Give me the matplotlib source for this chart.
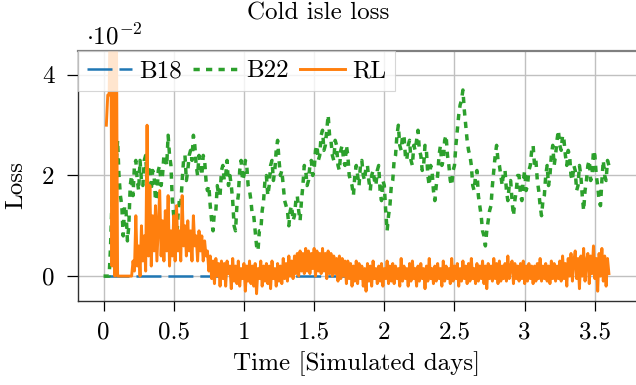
import matplotlib
matplotlib.use("Agg")
import matplotlib.pyplot as plt
import numpy as np

# ---------------------------------------------------------------------------
# Data (loss values in units of 1e-2)
# ---------------------------------------------------------------------------

b18_time = [0.0, 1.82]
b18_loss = [0.0, 0.0]

b22_time = np.round(np.arange(0, 3.605, 0.01), 2)
b22_loss = [
    0.0, 0.0, 0.0, 0.0, 0.0, 0.6, 1.5, 2.3, 2.6, 2.2, 2.7, 2.0, 1.6, 1.4, 0.8, 1.4, 1.3, 0.7, 1.0, 1.8,
    2.0, 1.6, 2.2, 2.3, 1.9, 1.7, 2.3, 1.9, 1.8, 2.3, 2.4, 1.9, 2.1, 2.2, 1.7, 2.1, 2.0, 1.5, 1.6, 2.1,
    2.2, 1.8, 2.0, 2.4, 2.4, 2.2, 2.8, 2.4, 2.2, 1.5, 1.2, 1.1, 0.6, 1.2, 1.5, 1.4, 1.9, 2.3, 2.4, 1.9,
    2.1, 2.4, 2.5, 2.3, 2.8, 2.6, 2.2, 2.0, 2.4, 2.2, 2.0, 2.4, 2.3, 1.9, 1.7, 1.8, 1.4, 1.1, 0.9, 1.3,
    1.3, 1.8, 1.6, 1.6, 2.1, 2.2, 1.9, 2.0, 2.3, 1.8, 2.0, 1.8, 1.5, 1.0, 0.9, 1.4, 1.6, 2.1, 2.3, 1.9,
    2.0, 2.3, 2.2, 1.8, 1.7, 1.5, 1.2, 1.2, 0.9, 0.6, 0.5, 0.9, 0.9, 1.3, 1.5, 1.9, 2.0, 1.6, 1.8, 2.2,
    2.3, 1.9, 2.1, 2.5, 2.7, 2.3, 2.0, 2.1, 1.8, 1.5, 1.4, 1.3, 1.0, 1.3, 1.4, 1.1, 1.2, 1.5, 1.6, 1.3,
    1.1, 1.5, 1.8, 2.2, 2.1, 1.8, 1.9, 2.2, 2.3, 2.0, 2.1, 2.5, 2.6, 2.3, 2.4, 2.8, 2.9, 2.5, 2.6, 2.9,
    3.2, 2.8, 2.7, 2.4, 2.3, 2.7, 2.6, 2.2, 2.1, 2.5, 2.6, 2.3, 2.2, 2.6, 2.4, 2.0, 1.9, 1.8, 1.6, 2.0,
    2.2, 2.0, 1.8, 2.2, 2.3, 2.0, 1.9, 2.2, 2.2, 1.9, 1.7, 2.0, 2.1, 1.9, 1.8, 2.1, 2.2, 1.7, 1.5, 1.9,
    1.8, 1.3, 0.9, 1.2, 1.4, 1.8, 1.9, 2.3, 2.4, 2.8, 3.0, 2.6, 2.5, 2.8, 2.8, 2.4, 2.3, 2.6, 2.7, 2.3,
    2.2, 2.6, 2.5, 2.7, 2.9, 2.5, 2.4, 2.1, 2.2, 2.6, 2.5, 2.0, 1.8, 2.2, 2.1, 1.7, 1.5, 1.8, 2.0, 2.4,
    2.6, 2.2, 2.3, 2.7, 2.8, 2.4, 2.2, 1.9, 1.8, 2.1, 2.2, 2.6, 2.9, 3.2, 3.4, 3.5, 3.7, 3.3, 3.0, 2.7,
    2.5, 2.4, 2.2, 1.8, 1.7, 2.0, 2.1, 1.6, 1.4, 1.2, 0.9, 0.8, 0.6, 0.9, 1.1, 1.3, 1.4, 1.8, 2.1, 2.4,
    2.6, 2.3, 2.2, 2.0, 1.8, 2.1, 2.1, 1.7, 1.5, 1.8, 1.9, 1.5, 1.2, 1.5, 1.7, 2.0, 2.0, 1.6, 1.5, 1.9,
    2.1, 1.7, 1.8, 2.1, 2.2, 2.5, 2.6, 2.2, 2.3, 1.9, 1.7, 1.4, 1.2, 1.5, 1.6, 2.0, 2.2, 1.8, 2.0, 2.4,
    2.6, 2.2, 2.4, 2.7, 2.9, 2.6, 2.5, 2.8, 2.7, 2.4, 2.2, 2.5, 2.4, 2.0, 1.9, 2.2, 2.1, 1.7, 1.8, 2.2,
    2.0, 1.6, 1.3, 1.7, 1.9, 2.2, 2.3, 1.9, 2.0, 2.5, 2.4, 2.0, 1.8, 1.5, 1.4, 1.9, 2.3, 2.0, 1.9, 2.3,
    2.2,
]

rl_time = np.round(np.arange(0, 3.605, 0.01), 2)
rl_loss = [
    np.nan, np.nan, 3.0, 3.6, 3.6, 6.0, 0.2, 6.0, 0.0, 6.0,
    0.0, 0.0, 0.0, 0.0, 0.0, 0.0, 0.0, 0.0, 0.0, 0.0,
    0.0, 0.3, 0.1, 1.2, 0.2, 0.6, 0.0, 1.0, 0.3, 0.8,
    0.1, 3.0, 0.4, 1.8, 0.2, 1.2, 0.5, 1.4, 0.3, 1.0,
    1.7, 0.4, 1.1, 0.3, 1.3, 0.5, 1.6, 0.2, 0.9, 0.4,
    1.2, 0.3, 1.4, 0.5, 0.9, 0.3, 1.6, 0.6, 1.0, 0.4,
    1.1, 0.5, 0.9, 0.3, 1.2, 0.6, 0.8, 0.3, 0.9, 0.5,
    0.8, 0.3, 0.7, 0.4, 0.5, 0.1,
    0.40, -0.05, 0.30, -0.15, 0.35, 0.00, 0.25, -0.20, 0.30, -0.05,
    0.25, -0.20, 0.30, 0.05, 0.20, -0.25, 0.35, -0.10, 0.20, -0.15,
    0.30, -0.20, 0.15, -0.05, 0.25, -0.30, 0.20, -0.10, 0.30, -0.15,
    0.20, -0.20, 0.25, -0.35, 0.15, -0.05, 0.30, -0.20, 0.20, -0.10,
    0.25, -0.15, 0.20, -0.25, 0.30, -0.05, 0.15, -0.20, 0.25, -0.10,
    0.20, -0.15, 0.35, -0.05, 0.25, -0.10, 0.40, 0.00, 0.30, -0.05,
    0.40, 0.05, 0.45, 0.00, 0.50, 0.10, 0.45, 0.05, 0.55, 0.10,
    0.50, 0.05, 0.45, 0.15, 0.55, 0.00, 0.50, 0.10, 0.45, 0.05,
    0.55, 0.10, 0.45, -0.05, 0.50, 0.05, 0.45, 0.00, 0.40, 0.05,
    0.35, -0.10, 0.40, -0.05, 0.35, 0.00, 0.30, -0.15, 0.30, -0.05,
    0.25, -0.20, 0.20, -0.10, 0.30, -0.15, 0.25, -0.05, 0.20, -0.20,
    0.15, -0.30, 0.25, -0.10, 0.20, -0.20, 0.30, -0.05, 0.15, -0.15,
    0.20, -0.10, 0.25, -0.20, 0.15, -0.05, 0.30, -0.15, 0.20, -0.10,
    0.25, -0.15, 0.20, -0.05, 0.15, -0.20, 0.35, -0.10, 0.20, -0.05,
    0.15, -0.20, 0.25, -0.10, 0.30, -0.05, 0.15, -0.20, 0.20, -0.10,
    0.25, -0.05, 0.15, -0.25, 0.20, -0.10, 0.35, -0.05, 0.15, -0.15,
    0.20, -0.10, 0.25, -0.05, 0.15, -0.20, 0.30, -0.10, 0.20, -0.05,
    0.15, -0.15, 0.35, -0.10, 0.20, -0.05, 0.25, -0.20, 0.15, -0.10,
    0.30, -0.05, 0.20, -0.15, 0.25, -0.10, 0.35, -0.05, 0.15, -0.15,
    0.25, -0.10, 0.20, -0.05, 0.30, -0.15, 0.20, -0.25, 0.25, -0.05,
    0.20, -0.10, 0.35, -0.05, 0.25, -0.15, 0.30, -0.10, 0.20, -0.05,
    0.25, -0.10, 0.40, -0.05, 0.20, 0.30, -0.15, 0.25, -0.05, 0.20,
    -0.10, 0.25, -0.05, 0.30, -0.15, 0.20, -0.10, 0.25, -0.05, 0.20,
    -0.15, 0.20, -0.10, 0.25, -0.05, 0.35, -0.10, 0.20, -0.05, 0.25,
    -0.10, 0.20, -0.15, 0.30, -0.05, 0.25, -0.10, 0.20, -0.05, 0.30,
    -0.10, 0.40, -0.05, 0.25, -0.20, 0.35, 0.00, 0.45, -0.10, 0.30,
    0.50, -0.05, 0.35, -0.25, 0.40, 0.00, 0.55, -0.10, 0.30, 0.45,
    -0.15, 0.40, 0.05, 0.60, -0.05, 0.35, -0.30, 0.45, 0.00, 0.55,
    -0.10, 0.40, -0.20, 0.35, 0.05,
]

x_ticks = [0, 0.5, 1, 1.5, 2, 2.5, 3, 3.5]
x_tick_labels = ["0", "0.5", "1", "1.5", "2", "2.5", "3", "3.5"]
y_ticks = [0, 2, 4]
y_tick_labels = ["0", "2", "4"]

# ---------------------------------------------------------------------------
# Style
# ---------------------------------------------------------------------------

plt.rcParams["font.family"] = ["cmr10", "DejaVu Serif"]
plt.rcParams["mathtext.fontset"] = "cm"
plt.rcParams["axes.formatter.use_mathtext"] = True
plt.rcParams["lines.scale_dashes"] = False
FS = 18

W, H = 636, 385
fig = plt.figure(figsize=(W / 100, H / 100), dpi=100)
ax = fig.add_axes([78 / W, 1 - 301 / H, 1 - 78 / W, (301 - 51) / H])

ax.plot(b18_time, b18_loss, color="#1f77b4", lw=1.8, dashes=(18, 5),
        label="B18", zorder=2)
ax.plot(b22_time, b22_loss, color="#2ca02c", lw=2.5, dashes=(4.5, 4.5),
        label="B22", zorder=3)
ax.plot(rl_time, rl_loss, color="#ff7f0e", lw=2.1, label="RL", zorder=4)

ax.set_xlim(-0.182, 3.793)
ax.set_ylim(-0.495, 4.475)
ax.set_xticks(x_ticks)
ax.set_xticklabels(x_tick_labels, fontsize=FS)
ax.set_yticks(y_ticks)
ax.set_yticklabels(y_tick_labels, fontsize=FS)
ax.tick_params(axis="x", direction="out", length=7, width=0.9, pad=8)
ax.tick_params(axis="y", direction="out", length=8, width=0.9, pad=9)
ax.grid(True, color="#c0c0c0", lw=1.0)
ax.set_axisbelow(True)

for s in ("left", "bottom"):
    ax.spines[s].set_color("#303030")
    ax.spines[s].set_linewidth(1.0)
ax.spines["top"].set_color("#808080")
ax.spines["top"].set_linewidth(1.6)
ax.spines["right"].set_visible(False)

ax.set_xlabel("Time [Simulated days]", fontsize=FS)
ax.xaxis.set_label_coords(0.5, (301 - 351) / 250)
ax.set_ylabel("Loss", fontsize=FS)
ax.yaxis.set_label_coords((27 - 78) / 558, (301 - 185) / 250)

fig.text(318 / W, 1 - 13 / H, "Cold isle loss", fontsize=FS,
         ha="center", va="center")
fig.text(86 / W, 1 - 44 / H, r"$\cdot 10^{-2}$", fontsize=FS,
         ha="left", va="baseline")

leg = ax.legend(loc="upper left", ncol=3, fontsize=FS, frameon=True,
                fancybox=False, borderaxespad=0, handlelength=1.8,
                handletextpad=0.3, columnspacing=0.45, borderpad=0.35)
leg.get_frame().set_edgecolor("#cccccc")
leg.get_frame().set_linewidth(0.8)
leg.get_frame().set_alpha(0.8)
leg.set_zorder(10)

fig.savefig("out.png", dpi=100)
